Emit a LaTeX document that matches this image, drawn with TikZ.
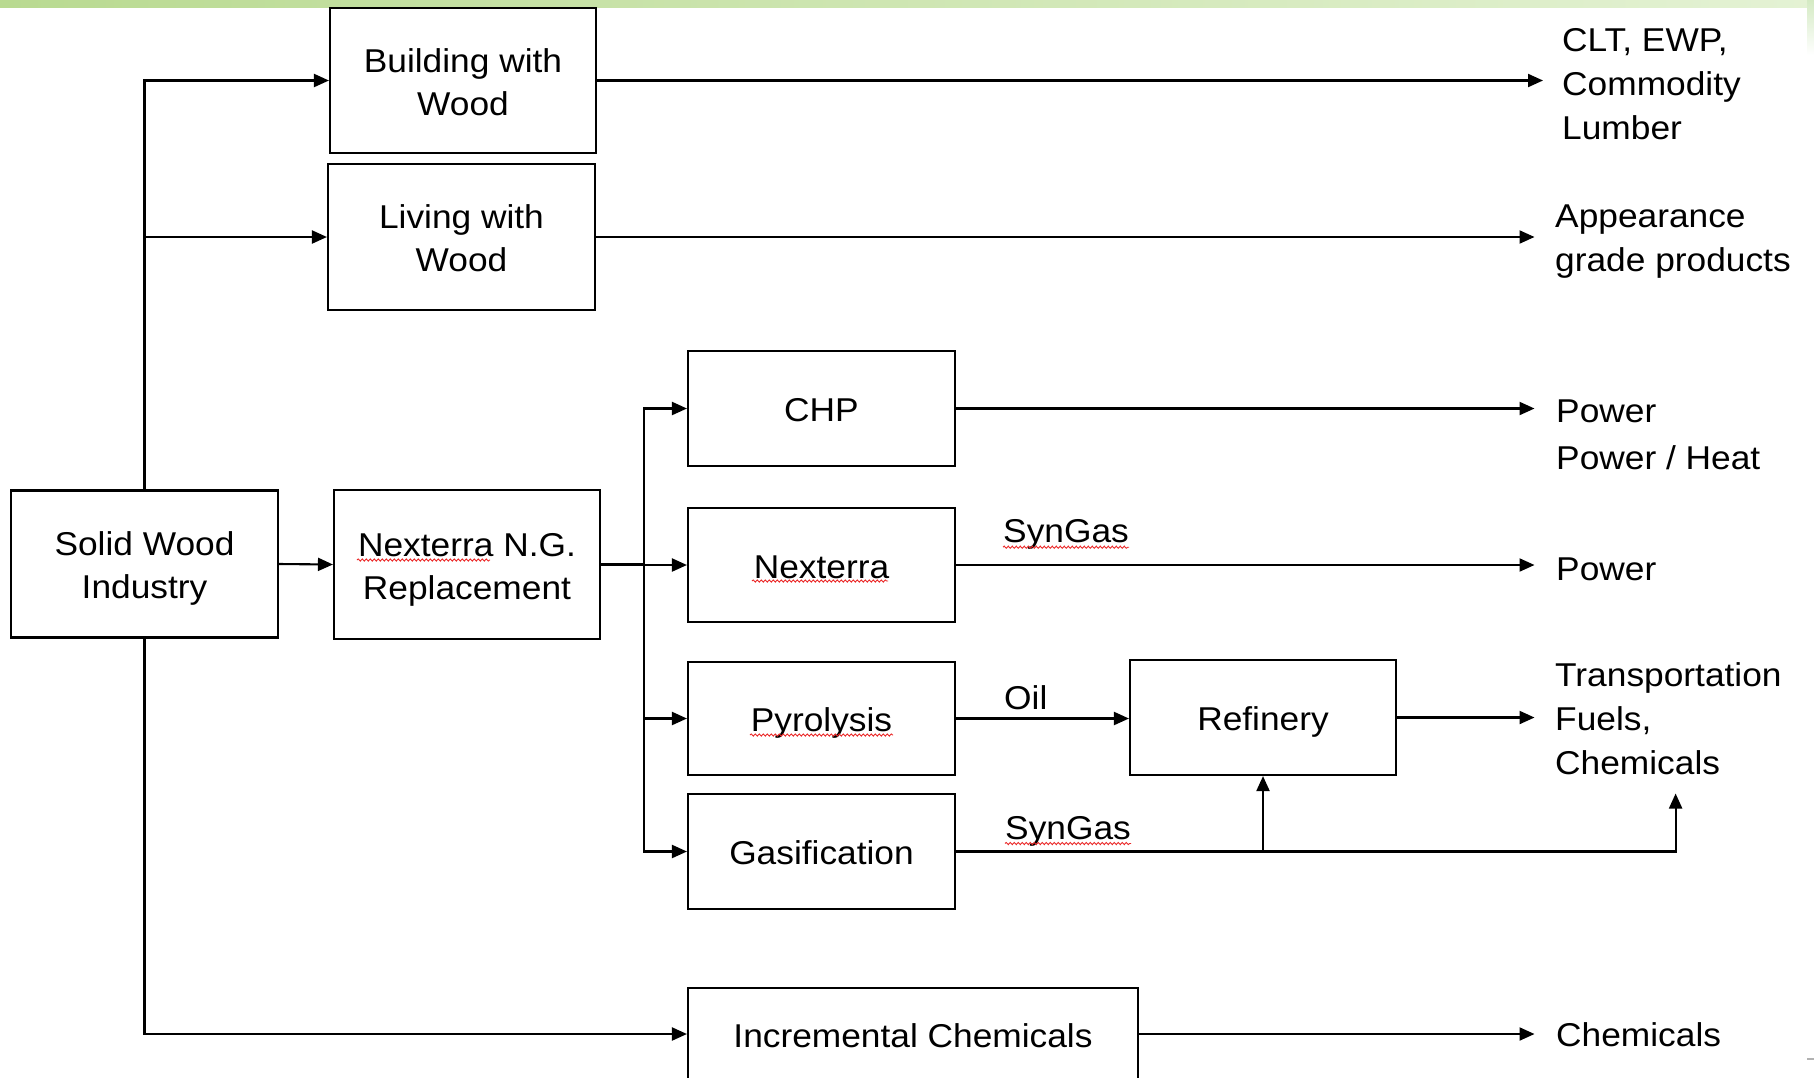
\documentclass[tikz,border=0pt]{standalone}
\usepackage{fontspec}
\setmainfont[FakeStretch=1.07]{Liberation Sans}
\usetikzlibrary{arrows.meta,decorations.pathmorphing,calc}
\definecolor{bandL}{RGB}{185,218,145}
\definecolor{bandR}{RGB}{228,242,212}
\definecolor{bandS}{RGB}{212,234,195}
\definecolor{squig}{RGB}{235,40,40}
\newcommand{\topstrut}{\rule{0pt}{33pt}}
\newcommand{\botstrut}{\rule[-7pt]{0pt}{7pt}}
\begin{document}
\begin{tikzpicture}[x=1pt,y=-1pt,
  boxbase/.style={draw=black, line width=2.1pt, minimum width=266pt, align=center, inner sep=0pt,
    font=\fontsize{33}{43}\selectfont},
  box/.style={boxbase,
    execute at begin node={\topstrut},
    execute at end node={\botstrut}},
  lbl/.style={inner sep=0pt, align=left, font=\fontsize{33}{44}\selectfont},
  conn/.style={line width=2.1pt},
  arr/.style={conn, -{Triangle[length=15pt,width=13pt]}},
  squiggle/.style={draw=squig, line width=0.9pt, decorate, decoration={snake, segment length=4pt, amplitude=1.1pt}}
]
\useasboundingbox (0,0) rectangle (1814,1077);
\fill[white] (0,0) rectangle (1814,1077);
\shade[left color=bandL, right color=bandR] (0,0) rectangle (1814,7);
\shade[top color=bandS, bottom color=white] (1807,0) rectangle (1814,55);
\draw[gray!60, line width=1.5pt] (1807,1059) -- (1814,1059);

% boxes
\node[boxbase, minimum height=145pt] (build) at (463,80.5) {\topstrut Building with\\Wood\botstrut};
\node[boxbase, minimum width=267pt, minimum height=146pt] (living) at (461.5,237) {\topstrut Living with\\Wood\botstrut};
\node[boxbase, minimum width=267pt, minimum height=147pt] (solid) at (144.5,564) {\topstrut Solid Wood\\Industry\botstrut};
\node[boxbase, minimum height=149pt] (nexng) at (467,564.5) {\topstrut Nexterra N.G.\\Replacement\botstrut};
\node[box, minimum width=267pt, minimum height=115pt] (chp) at (821.5,408.5) {CHP};
\node[box, minimum width=267pt, minimum height=114pt] (nexterra) at (821.5,565) {Nexterra};
\node[box, minimum width=267pt, minimum height=113pt] (pyro) at (821.5,718.5) {Pyrolysis};
\node[box, minimum width=267pt, minimum height=115pt] (gasif) at (821.5,851.5) {Gasification};
\node[box, minimum height=115pt] (refinery) at (1263,717.5) {Refinery};
\node[box, minimum width=450pt, minimum height=92pt] (incr) at (913,1034) {Incremental Chemicals};

% labels
\node[lbl, anchor=west] (clt) at (1562,84) {CLT, EWP,\\Commodity\\Lumber};
\node[lbl, anchor=west] (appear) at (1555,241.5) {Appearance\\grade products};
\node[lbl, anchor=base west] (power1) at (1556,422) {Power};
\node[lbl, anchor=base west] (powerheat) at (1556,469) {Power / Heat};
\node[lbl, anchor=base west] (power2) at (1556,580) {Power};
\node[lbl, anchor=west] (transp) at (1555,718.5) {Transportation\\Fuels,\\Chemicals};
\node[lbl, anchor=base west] (chem) at (1556,1046) {Chemicals};
\node[lbl, anchor=base west] (syn1) at (1003,542.7) {SynGas};
\node[lbl, anchor=base west] (oil) at (1004,709) {Oil};
\node[lbl, anchor=base west] (syn2) at (1005,839) {SynGas};

% connectors
\draw[arr] (solid.north) |- (build.west);
\draw[arr] (solid.north) |- (living.west);
\draw[arr] (solid.east) -- (nexng.west);
\draw[arr] (solid.south) |- (incr.west);
\coordinate (br) at (644,564.5);
\draw[conn] (nexng.east) -- (br);
\draw[arr] (br) |- (chp.west);
\draw[arr] (br) |- (nexterra.west);
\draw[arr] (br) |- (pyro.west);
\draw[arr] (br) |- (gasif.west);

\draw[arr, shorten >=19pt] (build.east) -- (build.east -| clt.west);
\draw[arr, shorten >=20.5pt] (living.east) -- (living.east -| appear.west);
\draw[arr, shorten >=21.5pt] (chp.east) -- (chp.east -| power1.west);
\draw[arr, shorten >=21.5pt] (nexterra.east) -- (nexterra.east -| power2.west);
\draw[arr] (pyro.east) -- (pyro.east -| refinery.west);
\draw[arr, shorten >=20.5pt] (refinery.east) -- (refinery.east -| transp.west);
\coordinate (tup) at (1675.6,793.5);
\draw[arr] (gasif.east) -| (tup);
\draw[arr] (gasif.east -| refinery.south) -- (refinery.south);
\draw[arr, shorten >=21.5pt] (incr.east) -- (incr.east -| chem.west);

% spell-check squiggles
\draw[squiggle] (357,560) -- (490,560);
\draw[squiggle] (752,581) -- (888,581);
\draw[squiggle] (750,735) -- (893,735);
\draw[squiggle] ($(syn1.base west)+(0,4.5)$) -- ($(syn1.base east)+(0,4.5)$);
\draw[squiggle] ($(syn2.base west)+(0,4.5)$) -- ($(syn2.base east)+(0,4.5)$);
\end{tikzpicture}
\end{document}
